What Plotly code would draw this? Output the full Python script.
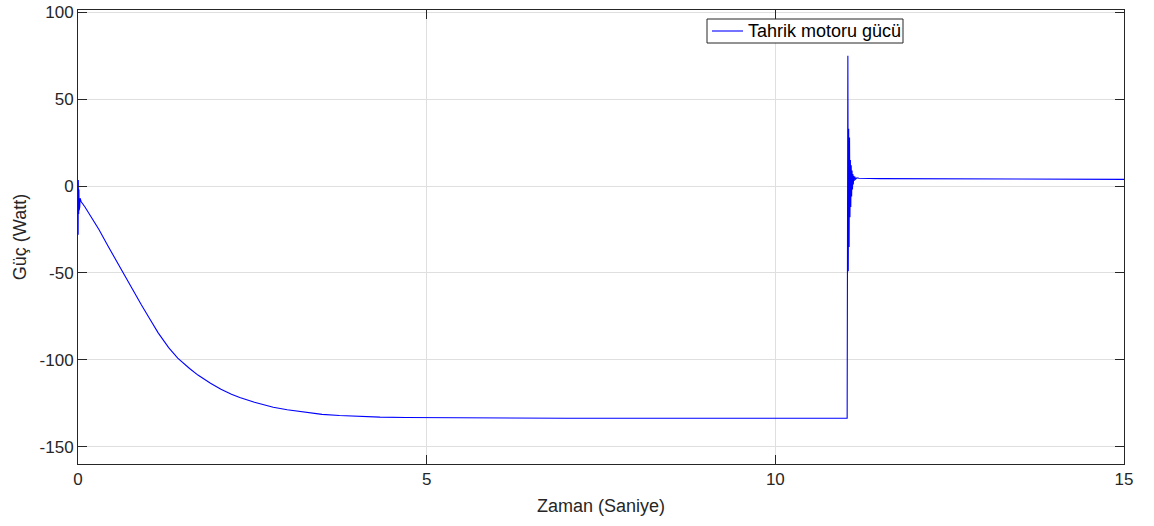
import plotly.graph_objects as go

# --- Data ---
# initial transient (0 .. 0.04 s)
t_start = [0.0, 0.002, 0.004, 0.006, 0.008, 0.010, 0.013, 0.016, 0.020, 0.025, 0.030, 0.040]
p_start = [0.0, -28.0, 3.5, -20.0, 1.0, -16.0, -2.0, -14.0, -4.0, -12.0, -7.0, -9.0]

# smooth decay toward the steady negative level
t_decay = [0.046, 0.10, 0.20, 0.30, 0.43, 0.55, 0.67, 0.80, 0.91, 1.03, 1.15, 1.30, 1.43,
           1.60, 1.72, 1.90, 2.05, 2.20, 2.32, 2.53, 2.80, 3.00, 3.27, 3.50, 3.75, 4.00,
           4.33, 4.70, 5.00, 5.76, 7.00, 9.00, 11.03]
p_decay = [-9.0, -12.0, -18.5, -25.0, -34.5, -43.0, -52.0, -61.0, -68.5, -76.5, -84.5, -93.0, -99.0,
           -105.0, -108.8, -113.5, -117.0, -119.8, -121.7, -124.5, -127.3, -128.8, -130.4, -131.4, -132.1, -132.6,
           -133.0, -133.2, -133.3, -133.5, -133.7, -133.7, -133.7]

# transient at ~11 s
t_spike = [11.040, 11.046, 11.052, 11.058, 11.064, 11.070, 11.076, 11.082, 11.088, 11.094,
           11.100, 11.106, 11.112, 11.118, 11.124, 11.130, 11.140, 11.150, 11.170, 11.200]
p_spike = [75.0, -49.0, 33.0, -35.0, 28.0, -18.0, 15.0, -12.0, 12.0, -6.0,
           9.0, -2.0, 7.0, 1.0, 6.0, 3.0, 5.5, 4.0, 4.8, 4.5]

# settled tail
t_tail = [11.5, 12.5, 13.5, 15.0]
p_tail = [4.3, 4.1, 4.0, 3.9]

t = t_start + t_decay + t_spike + t_tail
p = p_start + p_decay + p_spike + p_tail

x_ticks = [0, 5, 10, 15]
x_ticktext = ["0", "5", "10", "15"]
y_ticks = [-150, -100, -50, 0, 50, 100]
y_ticktext = ["-150", "-100", "-50", "0", "50", "100"]

series_name = "Tahrik motoru gücü"
line_color = "#0000ff"

# figure geometry (pixels)
W, H = 1154, 526
ML, MR, MT, MB = 78, 30, 10, 62
PW, PH = W - ML - MR, H - MT - MB

fig = go.Figure()
fig.add_trace(go.Scatter(
    x=t, y=p, mode="lines", name=series_name, showlegend=False,
    line=dict(color=line_color, width=1.1),
))

font = "Arial, Liberation Sans, sans-serif"
axis_common = dict(
    showline=True, linecolor="#262626", linewidth=1, mirror="ticks",
    ticks="inside", ticklen=9, tickcolor="#262626", tickwidth=1,
    showgrid=True, gridcolor="#dfdfdf", gridwidth=1, zeroline=False,
    tickfont=dict(family=font, size=17, color="#262626"),
    automargin=False,
)

# MATLAB-style legend: box, line sample and label
def px_x(px):
    return (px - ML) / PW

def px_y(py):
    return (H - MB - py) / PH

fig.add_shape(
    type="rect", xref="paper", yref="paper", layer="above",
    x0=px_x(707), x1=px_x(903), y0=px_y(43), y1=px_y(19),
    fillcolor="white", line=dict(color="#262626", width=1),
)
fig.add_shape(
    type="line", xref="paper", yref="paper", layer="above",
    x0=px_x(712), x1=px_x(743), y0=px_y(31), y1=px_y(31),
    line=dict(color=line_color, width=1.1),
)
fig.add_annotation(
    xref="paper", yref="paper", x=px_x(747), y=px_y(31),
    xanchor="left", yanchor="middle", showarrow=False,
    text=series_name,
    font=dict(family=font, size=18, color="#000000"),
    borderpad=0,
)

fig.update_layout(
    width=W, height=H,
    margin=dict(l=ML, r=MR, t=MT, b=MB),
    paper_bgcolor="white", plot_bgcolor="white",
    font=dict(family=font, size=17, color="#262626"),
    showlegend=False,
    xaxis=dict(range=[0, 15], tickvals=x_ticks, ticktext=x_ticktext,
               title=dict(text="Zaman (Saniye)", font=dict(family=font, size=18, color="#262626"), standoff=10),
               **axis_common),
    yaxis=dict(range=[-160, 101.4], tickvals=y_ticks, ticktext=y_ticktext,
               title=dict(text="Güç (Watt)", font=dict(family=font, size=18, color="#262626"), standoff=8),
               **axis_common),
)

fig.write_html("out.html")
